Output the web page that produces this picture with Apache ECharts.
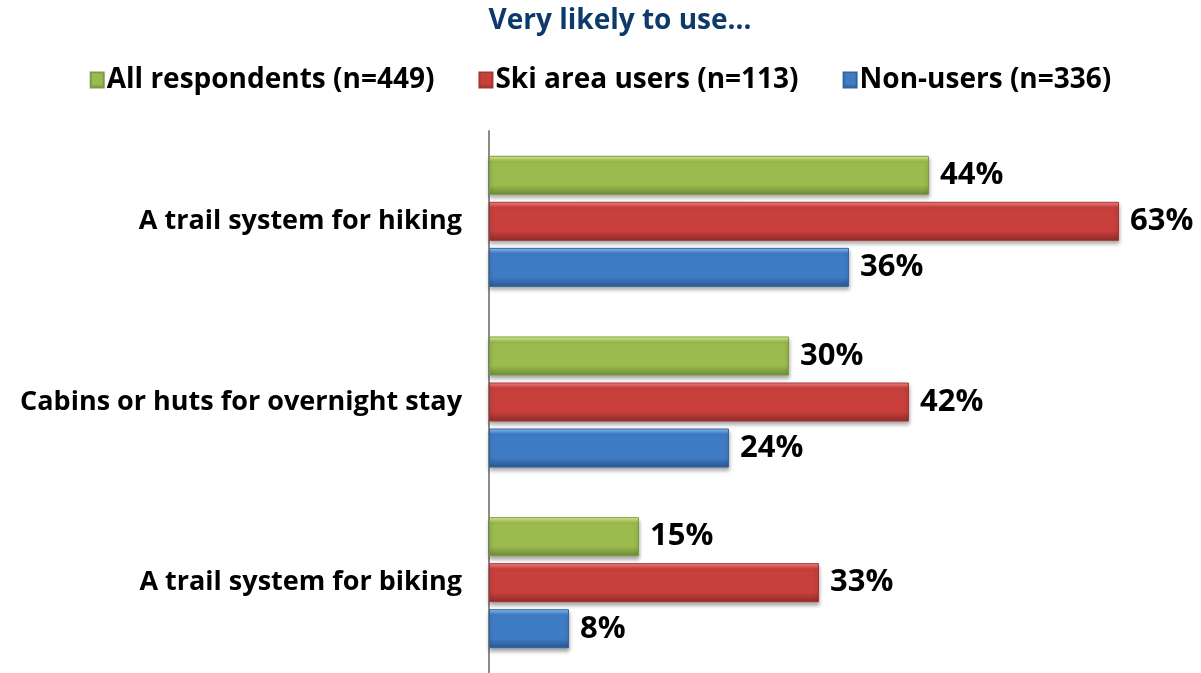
<!DOCTYPE html>
<html>
<head>
<meta charset="utf-8">
<script src="https://cdn.jsdelivr.net/npm/echarts@6/dist/echarts.min.js"></script>
<style>
  html, body { margin: 0; padding: 0; background: #fff; }
  #chart { width: 1201px; height: 673px; }
</style>
</head>
<body>
<div id="chart"></div>
<script>
var categories = ['A trail system for hiking', 'Cabins or huts for overnight stay', 'A trail system for biking'];
var seriesNames = ['All respondents (n=449)', 'Ski area users (n=113)', 'Non-users (n=336)'];
var allRespondents = [44, 30, 15];
var skiAreaUsers = [63, 42, 33];
var nonUsers = [36, 24, 8];

var FONT = '"Open Sans"';

// bevel look: light top edge, base colour, darker bottom
function bevel(light, base, dark) {
    return new echarts.graphic.LinearGradient(0, 0, 0, 1, [
        { offset: 0, color: light },
        { offset: 0.15, color: base },
        { offset: 0.75, color: base },
        { offset: 1, color: dark }
    ]);
}

function makeSeries(name, data, light, base, dark, border) {
    return {
        name: name,
        type: 'bar',
        data: data,
        barWidth: 39,
        barGap: '18%',
        itemStyle: {
            color: bevel(light, base, dark),
            borderColor: border,
            borderWidth: 1,
            shadowColor: 'rgba(0,0,0,0.35)',
            shadowBlur: 4,
            shadowOffsetY: 3
        },
        label: {
            show: true,
            position: 'right',
            distance: 11,
            formatter: '{c}%',
            color: '#000',
            fontFamily: FONT,
            fontWeight: 'bold',
            fontSize: 31
        }
    };
}

var chart = echarts.init(document.getElementById('chart'));
chart.setOption({
    animation: false,
    title: {
        text: 'Very likely to use\u2026',
        left: 615,
        textAlign: 'center',
        top: 2,
        textStyle: { color: '#0d3a6b', fontFamily: FONT, fontWeight: 'bold', fontSize: 28 }
    },
    legend: {
        top: 61,
        left: 'center',
        icon: 'rect',
        itemWidth: 13,
        itemHeight: 15,
        itemGap: 44,
        textStyle: { color: '#000', fontFamily: FONT, fontWeight: 'bold', fontSize: 28, padding: [0, 0, 0, -2] },
        data: seriesNames
    },
    grid: { left: 489, right: 12, top: 131, bottom: -7, containLabel: false },
    xAxis: {
        type: 'value',
        min: 0,
        max: 70,
        show: false
    },
    yAxis: {
        type: 'category',
        inverse: true,
        data: categories,
        axisLine: { show: true, lineStyle: { color: '#8c8c8c', width: 2 } },
        axisTick: { show: false },
        axisLabel: {
            margin: 27,
            color: '#000',
            fontFamily: FONT,
            fontWeight: 'bold',
            fontSize: 27
        }
    },
    series: [
        makeSeries(seriesNames[0], allRespondents, '#e2fb94', '#9bbb4f', '#6e8a36', '#7f9a45'),
        makeSeries(seriesNames[1], skiAreaUsers, '#ff8a88', '#c83f3c', '#8e2c2a', '#a33735'),
        makeSeries(seriesNames[2], nonUsers, '#8fc8ff', '#3f7cc6', '#2a568f', '#34649e')
    ]
});
</script>
</body>
</html>
